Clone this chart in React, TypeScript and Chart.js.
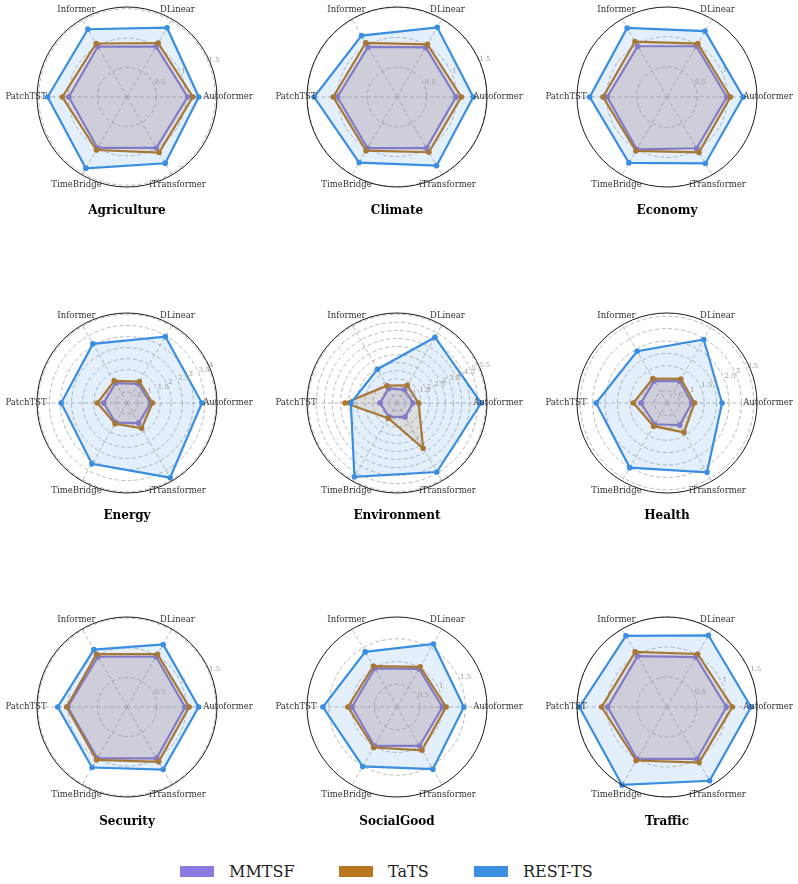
import React, { useEffect, useRef } from "react";
import { Chart, registerables } from "chart.js";

Chart.register(...registerables);

// ---------- data ----------
const domains = ["Agriculture", "Climate", "Economy", "Energy", "Environment", "Health", "Security", "SocialGood", "Traffic"];
// natural (counter-clockwise from the right) order of the axes
const models = ["Autoformer", "DLinear", "Informer", "PatchTST", "TimeBridge", "iTransformer"];
const seriesNames = ["MMTSF", "TaTS", "REST-TS"];
const seriesColors = ["#8878de", "#b9741b", "#3a8ee0"];
const seriesFills = ["rgba(136,120,222,0.15)", "rgba(185,116,27,0.15)", "rgba(58,142,224,0.14)"];

// values per domain, in the order of `models`
const mmtsf = [
  [1.03, 0.99, 0.99, 0.99, 1.0, 1.0],
  [0.99, 0.96, 0.97, 1.0, 0.99, 0.99],
  [0.99, 0.97, 0.97, 0.99, 1.0, 0.98],
  [1.06, 1.0, 1.03, 1.05, 1.02, 1.05],
  [0.99, 0.94, 1.04, 1.05, 0.99, 1.0],
  [1.0, 1.02, 1.03, 1.05, 0.99, 1.03],
  [0.98, 0.98, 0.98, 1.0, 1.0, 1.0],
  [1.0, 0.97, 0.98, 0.99, 0.99, 0.99],
  [0.99, 0.96, 0.98, 0.99, 1.0, 1.0],
];
const tats = [
  [1.12, 1.06, 1.05, 1.1, 1.04, 1.09],
  [1.08, 1.02, 1.05, 1.07, 1.04, 1.07],
  [1.05, 1.02, 1.06, 1.06, 1.03, 1.06],
  [1.15, 1.12, 1.15, 1.34, 1.08, 1.32],
  [1.34, 1.27, 1.24, 3.22, 1.09, 3.24],
  [1.11, 1.12, 1.14, 1.36, 1.08, 1.37],
  [1.05, 1.03, 1.03, 1.02, 1.03, 1.07],
  [1.08, 1.02, 1.04, 1.08, 1.03, 1.1],
  [1.09, 1.02, 1.06, 1.09, 1.03, 1.07],
];
const restTs = [
  [1.22, 1.36, 1.33, 1.35, 1.4, 1.3],
  [1.28, 1.35, 1.19, 1.39, 1.27, 1.33],
  [1.26, 1.26, 1.32, 1.28, 1.26, 1.27],
  [3.38, 3.46, 3.08, 2.97, 3.17, 3.89],
  [5.22, 4.71, 2.42, 2.86, 5.28, 4.94],
  [2.22, 2.96, 2.41, 2.86, 3.01, 3.23],
  [1.21, 1.22, 1.12, 1.17, 1.18, 1.22],
  [1.47, 1.6, 1.4, 1.63, 1.51, 1.58],
  [1.4, 1.38, 1.37, 1.46, 1.5, 1.42],
];
const radialMax = [1.53, 1.51, 1.49, 4.06, 5.58, 3.63, 1.52, 1.98, 1.5];
const tickStep = 0.5;

// Chart.js walks clockwise; this maps clockwise slots to model indices
const clockwiseOrder = [0, 5, 4, 3, 2, 1];

// ---------- layout ----------
const colX = [127, 397, 667];
const rowY = [97, 403, 707];
const titleY = [210, 515, 821];
const R = 90;
const PAD_X = 42;
const PAD_Y = 25;
const CW = 2 * R + 2 * PAD_X;
const CH = 2 * R + 2 * PAD_Y;
const SERIF = "'DejaVu Serif', serif";

const decorPlugin = {
  id: "radarDecor",
  afterDatasetsDraw(chart: any) {
    const s = chart.scales.r;
    const ctx = chart.ctx;
    ctx.save();
    // outer spine
    ctx.beginPath();
    ctx.setLineDash([]);
    ctx.arc(s.xCenter, s.yCenter, s.drawingArea, 0, Math.PI * 2);
    ctx.strokeStyle = "#1a1a1a";
    ctx.lineWidth = 1;
    ctx.stroke();
    // radial tick labels at 22.5 degrees
    ctx.font = `7px ${SERIF}`;
    ctx.fillStyle = "#9a9a9a";
    ctx.textAlign = "left";
    ctx.textBaseline = "bottom";
    const a = (-22.5 * Math.PI) / 180;
    s.ticks.forEach((t: any) => {
      if (t.value <= 0) return;
      const d = s.getDistanceFromCenterForValue(t.value);
      const txt = String(Number(t.value.toFixed(2)));
      ctx.fillText(txt, s.xCenter + d * Math.cos(a), s.yCenter + d * Math.sin(a));
    });
    // axis labels
    ctx.font = `8.5px ${SERIF}`;
    ctx.fillStyle = "#333";
    ctx.textAlign = "center";
    ctx.textBaseline = "middle";
    chart.data.labels.forEach((lab: string, i: number) => {
      const p = s.getPointPosition(i, s.drawingArea + 11);
      ctx.fillText(lab, p.x, p.y);
    });
    ctx.restore();
  },
};

function RadarPanel({ idx }: { idx: number }) {
  const ref = useRef<HTMLCanvasElement>(null);
  useEffect(() => {
    if (!ref.current) return;
    const series = [mmtsf[idx], tats[idx], restTs[idx]];
    const labels = clockwiseOrder.map((k) => models[k]);
    const chart = new Chart(ref.current, {
      type: "radar",
      data: {
        labels,
        datasets: series.map((vals, si) => ({
          label: seriesNames[si],
          data: clockwiseOrder.map((k) => vals[k]),
          borderColor: seriesColors[si],
          backgroundColor: seriesFills[si],
          pointBackgroundColor: seriesColors[si],
          pointBorderColor: seriesColors[si],
          pointBorderWidth: 0,
          pointRadius: 2.8,
          borderWidth: 2.2,
          fill: true,
          order: 2 - si,
        })),
      },
      options: {
        responsive: false,
        animation: false,
        devicePixelRatio: 1,
        layout: { padding: { left: PAD_X, right: PAD_X, top: PAD_Y, bottom: PAD_Y } },
        plugins: { legend: { display: false }, tooltip: { enabled: false }, title: { display: false } },
        scales: {
          r: {
            min: 0,
            max: radialMax[idx],
            startAngle: 90,
            ticks: { display: false, stepSize: tickStep, includeBounds: false },
            pointLabels: { display: false },
            grid: { circular: true, color: "rgba(140,140,140,0.75)", lineWidth: 0.8 },
            border: { dash: [4, 2.5] },
            angleLines: { display: true, color: "rgba(140,140,140,0.75)", lineWidth: 0.8, borderDash: [4, 2.5] },
          },
        },
      } as any,
      plugins: [decorPlugin],
    });
    return () => chart.destroy();
  }, [idx]);
  const cx = colX[idx % 3];
  const cy = rowY[Math.floor(idx / 3)];
  const ty = titleY[Math.floor(idx / 3)];
  return (
    <>
      <canvas
        ref={ref}
        width={CW}
        height={CH}
        style={{ position: "absolute", left: cx - CW / 2, top: cy - CH / 2, width: CW, height: CH }}
      />
      <div
        style={{
          position: "absolute",
          left: cx - 100,
          top: ty - 9,
          width: 200,
          height: 18,
          lineHeight: "18px",
          textAlign: "center",
          fontFamily: SERIF,
          fontWeight: "bold",
          fontSize: 12,
          color: "#000",
        }}
      >
        {domains[idx]}
      </div>
    </>
  );
}

const legendSwatchX = [180, 339, 474];
const legendTextX = [229, 388, 523];
const legendSwatchColors = ["#8a7be0", "#b9761f", "#3b8ee0"];

export default function App() {
  return (
    <div style={{ position: "absolute", left: 0, top: 0, width: 798, height: 884, background: "#fff", overflow: "hidden" }}>
      {domains.map((_, i) => (
        <RadarPanel key={i} idx={i} />
      ))}
      {seriesNames.map((name, i) => (
        <React.Fragment key={name}>
          <div
            style={{
              position: "absolute",
              left: legendSwatchX[i],
              top: 866,
              width: 34,
              height: 11,
              background: legendSwatchColors[i],
            }}
          />
          <div
            style={{
              position: "absolute",
              left: legendTextX[i],
              top: 862,
              height: 20,
              lineHeight: "20px",
              fontFamily: SERIF,
              fontSize: 16,
              color: "#222",
              whiteSpace: "nowrap",
            }}
          >
            {name}
          </div>
        </React.Fragment>
      ))}
    </div>
  );
}
